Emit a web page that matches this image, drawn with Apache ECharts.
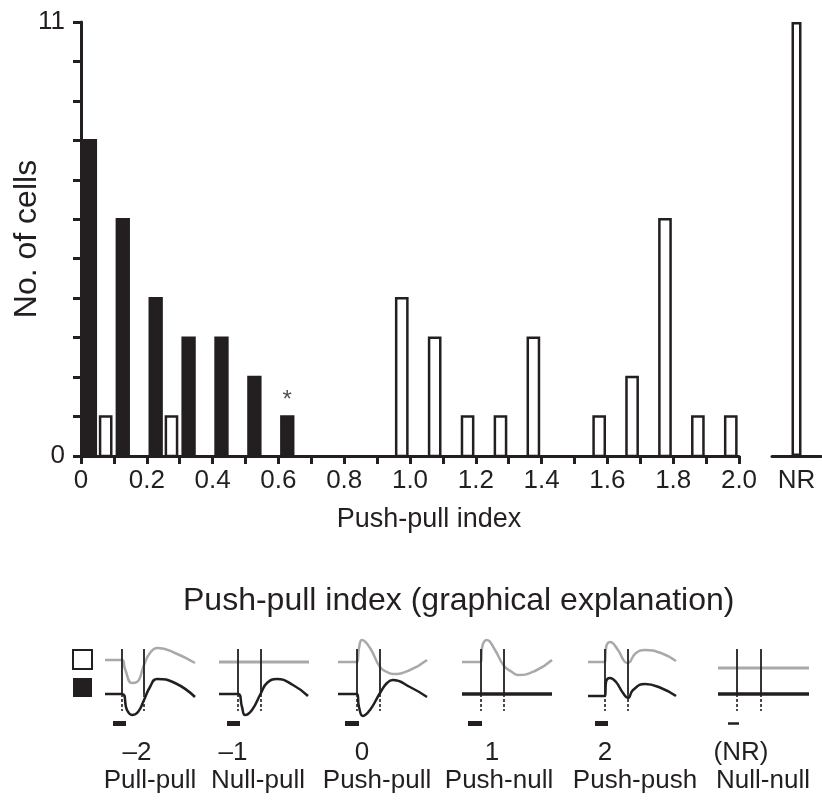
<!DOCTYPE html>
<html><head><meta charset="utf-8">
<script src="https://cdn.jsdelivr.net/npm/echarts@6/dist/echarts.min.js"></script>
<style>html,body{margin:0;padding:0;background:#fff}#c{width:822px;height:801px}</style>
</head><body><div id="c"></div>
<script>
// ---------- data ----------
const binStarts = [0.0,0.1,0.2,0.3,0.4,0.5,0.6,0.7,0.8,0.9,1.0,1.1,1.2,1.3,1.4,1.5,1.6,1.7,1.8,1.9];
const filledCounts = [8,6,4,3,3,2,1,0,0,0,0,0,0,0,0,0,0,0,0,0];
const openCounts   = [1,0,1,0,0,0,0,0,0,4,3,1,1,3,0,1,2,6,1,1];
const nrCategories = ['NR'];
const nrCounts = [11];
const starredBins = [0.6];
const yTickLabels = [0, 11];
const xTickLabels = ['0','0.2','0.4','0.6','0.8','1.0','1.2','1.4','1.6','1.8','2.0'];

const panelIndexLabels = ['\u20132','\u20131','0','1','2','(NR)'];
const panelNames = ['Pull-pull','Null-pull','Push-pull','Push-null','Push-push','Null-null'];
const grayTraces = [
  [[0,34],[17,34],[20,25],[27,11],[32,12],[39,29],[45,41],[53,46],[70,41],[90,31]],
  [[0,32],[90,32]],
  [[0,32],[19,32],[21,46],[24,54],[32,46],[42,27],[49,22],[55,20],[72,24],[89,34]],
  [[0,32],[19,32],[20,46],[25,54],[33,44],[42,28],[50,22],[56,19],[73,23],[90,34]],
  [[0,32],[17,32],[18,46],[22,52],[30,44],[37,32],[40,31],[47,40],[57,44],[73,41],[88,33]],
  [[0,26],[91,26]]
];
const blackTraces = [
  [[0,0],[17,0],[22,-16],[27,-21],[33,-18],[39,-6],[45,7],[52,15],[70,11],[90,-3]],
  [[0,0],[19,0],[23,-13],[26,-21],[33,-16],[42,1],[48,11],[58,15],[74,9],[89,-2]],
  [[0,0],[19,0],[21,-13],[25,-22],[32,-16],[42,1],[49,11],[55,14],[72,7],[89,-3]],
  [[0,0],[90,0]],
  [[0,-2],[17,-2],[18,12],[22,16],[28,12],[35,1],[40,-4],[45,4],[57,10],[73,6],[88,-2]],
  [[0,0],[91,0]]
];
const stimOn  = [17,19,19,19,17,19];
const stimOff = [39,42,42,42,40,43];
const stimBars = [[8,21],[8,21],[7,21],[6,20],[7,20],[10,21]];

// ---------- styling / layout ----------
const ink = '#231f20';
const gray = '#a7a9ac';
const font = '"Liberation Sans", Arial, Helvetica, sans-serif';
const binW = 0.1;
const filledFrac = [0.09, 0.45];
const openFrac = [0.58, 0.92];
const panelLefts = [105, 219, 338, 462, 588, 718];
const idxX = [137, 233, 362, 492, 605, 741];
const nameX = [150, 258, 377, 499, 635, 763];
const flatPanels = [false, true, false, false, false, true];
const flatBlack = [false, false, false, true, false, true];

function barRenderer(frac, fill, stroke) {
  return function (params, api) {
    const x0 = api.value(0), v = api.value(1);
    if (!v) return null;
    const a = api.coord([x0 + frac[0] * binW, v]);
    const b = api.coord([x0 + frac[1] * binW, 0]);
    return {
      type: 'rect',
      shape: { x: a[0], y: a[1], width: b[0] - a[0], height: b[1] - a[1] },
      style: { fill: fill, stroke: stroke, lineWidth: 2.5 }
    };
  };
}

const grids = [
  { left: 81, top: 22, width: 658, height: 434, outerBoundsMode: 'none', containLabel: false },
  { left: 772, top: 22, width: 49, height: 434, outerBoundsMode: 'none', containLabel: false }
];
panelLefts.forEach(l => grids.push({ left: l, top: 636, width: 92, height: 90, outerBoundsMode: 'none', containLabel: false }));

const labelStyle = { color: ink, fontSize: 26, fontFamily: font };

const xAxes = [
  {
    type: 'value', gridIndex: 0, min: 0, max: 2, interval: 0.1,
    axisLine: { show: true, lineStyle: { color: ink, width: 3 } },
    axisTick: { show: true, length: 8, lineStyle: { color: ink, width: 3 } },
    splitLine: { show: false },
    axisLabel: Object.assign({
      margin: 12, showMinLabel: true, showMaxLabel: true,
      formatter: v => { const k = Math.round(v * 10); return k % 2 === 0 ? xTickLabels[k / 2] : ''; }
    }, labelStyle),
    name: 'Push-pull index', nameLocation: 'middle', nameGap: 50, nameMoveOverlap: false,
    nameTextStyle: { color: ink, fontSize: 27, fontFamily: font, padding: [0, 0, 0, 38] }
  },
  {
    type: 'category', gridIndex: 1, data: nrCategories,
    axisLine: { show: true, lineStyle: { color: ink, width: 3 } },
    axisTick: { show: false },
    axisLabel: Object.assign({ margin: 12 }, labelStyle)
  }
];
const yAxes = [
  {
    type: 'value', gridIndex: 0, min: 0, max: 11, interval: 1,
    axisLine: { show: true, lineStyle: { color: ink, width: 3 } },
    axisTick: { show: true, length: 8, lineStyle: { color: ink, width: 3 } },
    splitLine: { show: false },
    axisLabel: Object.assign({ margin: 16, formatter: v => yTickLabels.includes(v) ? String(v) : '' }, labelStyle),
    name: 'No. of cells', nameLocation: 'middle', nameGap: 38, nameRotate: 90, nameMoveOverlap: false,
    nameTextStyle: { color: ink, fontSize: 32, fontFamily: font }
  },
  { type: 'value', gridIndex: 1, min: 0, max: 11, show: false, splitLine: { show: false } }
];
panelLefts.forEach((l, i) => {
  xAxes.push({ type: 'value', gridIndex: i + 2, min: 0, max: 92, show: false, splitLine: { show: false } });
  yAxes.push({ type: 'value', gridIndex: i + 2, min: -32, max: 58, show: false, splitLine: { show: false } });
});

const series = [
  {
    name: 'Filled bars', type: 'custom', xAxisIndex: 0, yAxisIndex: 0,
    itemStyle: { color: ink },
    encode: { x: 0, y: 1 },
    data: binStarts.map((b, i) => [b, filledCounts[i]]),
    renderItem: barRenderer(filledFrac, ink, ink)
  },
  {
    name: 'Open bars', type: 'custom', xAxisIndex: 0, yAxisIndex: 0,
    itemStyle: { color: '#fff', borderColor: ink },
    encode: { x: 0, y: 1 },
    data: binStarts.map((b, i) => [b, openCounts[i]]),
    renderItem: barRenderer(openFrac, '#fff', ink)
  },
  {
    name: 'Significant', type: 'scatter', xAxisIndex: 0, yAxisIndex: 0,
    symbolSize: 0,
    data: starredBins.map(b => [b + (filledFrac[0] + filledFrac[1]) / 2 * binW, filledCounts[Math.round(b / binW)]]),
    label: { show: true, position: 'top', distance: 4, formatter: '*', color: ink, fontSize: 24, fontFamily: font }
  },
  {
    name: 'Open bars (NR)', type: 'bar', xAxisIndex: 1, yAxisIndex: 1,
    barWidth: 10, data: nrCounts,
    itemStyle: { color: '#fff', borderColor: ink, borderWidth: 2.5 }
  }
];

panelLefts.forEach((l, i) => {
  const g = i + 2;
  series.push({
    name: 'Open response ' + panelNames[i], type: 'line', xAxisIndex: g, yAxisIndex: g,
    data: grayTraces[i], symbol: 'none', smooth: 0.5, clip: false,
    lineStyle: { color: gray, width: flatPanels[i] ? 3 : 2.5 }, z: 3
  });
  const ml = [
    [{ coord: [stimOn[i], 45] }, { coord: [stimOn[i], 0], lineStyle: { color: ink, width: 1.8, type: 'solid' } }],
    [{ coord: [stimOff[i], 45] }, { coord: [stimOff[i], 0], lineStyle: { color: ink, width: 1.8, type: 'solid' } }],
    [{ coord: [stimOn[i], 0] }, { coord: [stimOn[i], -17], lineStyle: { color: ink, width: 1.6, type: [3, 2] } }],
    [{ coord: [stimOff[i], 0] }, { coord: [stimOff[i], -17], lineStyle: { color: ink, width: 1.6, type: [3, 2] } }],
    [{ coord: [stimBars[i][0], -29] }, { coord: [stimBars[i][1], -29], lineStyle: { color: ink, width: i === 5 ? 2.5 : 5, type: 'solid' } }]
  ];
  series.push({
    name: 'Filled response ' + panelNames[i], type: 'line', xAxisIndex: g, yAxisIndex: g,
    data: blackTraces[i], symbol: 'none', smooth: 0.5, clip: false,
    lineStyle: { color: ink, width: flatBlack[i] ? 3.5 : 2.5 }, z: 4,
    markLine: { silent: true, symbol: 'none', label: { show: false }, animation: false, data: ml }
  });
});

const graphics = [];
panelIndexLabels.forEach((t, i) => {
  graphics.push({ type: 'text', x: idxX[i], y: 753, style: { text: t, fill: ink, font: '26px ' + font, textAlign: 'center', textVerticalAlign: 'middle' } });
  graphics.push({ type: 'text', x: nameX[i], y: 781, style: { text: panelNames[i], fill: ink, font: '26px ' + font, textAlign: 'center', textVerticalAlign: 'middle' } });
});

const chart = echarts.init(document.getElementById('c'), null, { renderer: 'canvas' });
chart.setOption({
  animation: false,
  backgroundColor: '#fff',
  title: {
    text: 'Push-pull index (graphical explanation)', left: 183, top: 585, padding: 0,
    textStyle: { color: ink, fontSize: 32, fontWeight: 'normal', fontFamily: font }
  },
  legend: {
    left: 72, top: 649, padding: 0, orient: 'vertical', itemWidth: 19, itemHeight: 19, itemGap: 8,
    icon: 'rect', selectedMode: false, formatter: () => '',
    data: [
      { name: 'Open bars', itemStyle: { color: '#fff', borderColor: ink, borderWidth: 2 } },
      { name: 'Filled bars', itemStyle: { color: ink } }
    ]
  },
  grid: grids, xAxis: xAxes, yAxis: yAxes, series: series, graphic: graphics
});
</script></body></html>
